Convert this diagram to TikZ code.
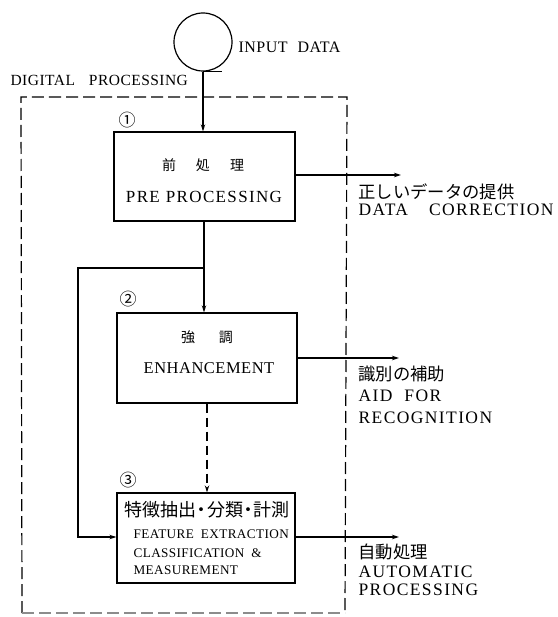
\documentclass[tikz,border=0pt]{standalone}
\usepackage{fontspec}
\setmainfont{Liberation Serif}
\newfontfamily\jpfont{Noto Sans CJK JP}
\newfontfamily\wideserif[LetterSpace=8]{Liberation Serif}
\newfontfamily\looseserif[LetterSpace=3]{Liberation Serif}
\usetikzlibrary{arrows.meta}
\newcommand{\jpdot}{\hspace{-0.2em}・\hspace{-0.2em}}

\begin{document}
\begin{tikzpicture}[x=1pt,y=-1pt,
  line width=1.2pt,
  flow/.style={-{Stealth[length=7pt,width=4.5pt]}},
  procbox/.style={draw, line width=1.3pt, minimum width=#1, minimum height=90pt, inner sep=0pt},
  en/.style={inner sep=0pt, font=\wideserif\fontsize{17.5}{19}\selectfont},
  enbox/.style={inner sep=0pt, font=\wideserif\fontsize{17}{19}\selectfont},
  ensmall/.style={inner sep=0pt, anchor=west, font=\looseserif\fontsize{13.2}{15}\selectfont},
  ja/.style={inner sep=0pt, font=\jpfont\fontsize{17.3}{19}\selectfont},
  num/.style={inner sep=0pt, font=\jpfont\fontsize{17}{17}\selectfont},
  frame/.style={dash pattern=on 12pt off 5pt, line width=1.2pt}
]
\useasboundingbox (0,0) rectangle (557,617);

% input
\node[draw, circle, minimum size=58pt, inner sep=0pt, line width=1.2pt] (in) at (203,42) {};
\node[inner sep=0pt, anchor=west, font=\looseserif\fontsize{16}{18}\selectfont] (inlabel) at (238,47) {INPUT\hspace{10pt}DATA};

% digital processing frame
\node[inner sep=0pt, anchor=west, font=\looseserif\fontsize{15.5}{18}\selectfont] (dplabel) at (10,80) {DIGITAL\hspace{14pt}PROCESSING};
\coordinate (ftl) at (21,97);
\coordinate (ftr) at (347,97);
\coordinate (fbl) at (22,613);
\coordinate (fbr) at (345,613);
\draw[frame] (fbl) -- (ftl) -- (ftr) -- (fbr);
\draw[frame, draw=black!45] (fbl) -- (fbr);

% process boxes
\node[procbox=181pt, minimum height=89pt] (b1) at (204.5,176.5) {};
\node[procbox=180pt] (b2) at (207,358) {};
\node[procbox=178pt] (b3) at (206,538) {};

\node[num] (n1) at (127,120) {①};
\node[num] (n2) at (128,299) {②};
\node[num] (n3) at (128,480) {③};

\node[inner sep=0pt, font=\jpfont\fontsize{14}{14}\selectfont] (t1a) at (203,165) {前\hspace{20pt}処\hspace{20pt}理};
\node[enbox] (t1b) at (204,197) {PRE\hspace{6pt}PROCESSING};

\node[inner sep=0pt, font=\jpfont\fontsize{14}{14}\selectfont] (t2a) at (207,337) {強\hspace{24pt}調};
\node[inner sep=0pt, font=\looseserif\fontsize{16.5}{19}\selectfont] (t2b) at (209,368) {ENHANCEMENT};

\node[inner sep=0pt, font=\jpfont\fontsize{18}{19}\selectfont] (t3a) at (207,510) {特徴抽出\jpdot 分類\jpdot 計測};
\node[ensmall] (t3b) at (133,534) {FEATURE\hspace{7pt}EXTRACTION};
\node[ensmall] (t3c) at (133,553) {CLASSIFICATION\hspace{7pt}\&};
\node[ensmall] (t3d) at (133,570) {MEASUREMENT};

% flow
\draw (in.south) -- ++(19,0);
\draw[flow] (in.south) -- (in.south |- b1.north);
\coordinate (j) at (204,268);
\draw (b1.south -| j) -- (j);
\draw[flow] (j) -- (j |- b2.north);
\draw[flow] (j) -- (78,268) -- (78,537) -- (b3.west |- 0,537);
\draw[flow, dash pattern=on 9pt off 5pt] (b2.south) -- (b2.south |- b3.north);

% outputs
\coordinate (o1) at (401,175);
\coordinate (o2) at (399,358);
\coordinate (o3) at (399,537);
\draw[flow] (b1.east |- o1) -- (o1);
\draw[flow] (b2.east |- o2) -- (o2);
\draw[flow] (b3.east |- o3) -- (o3);

\node[ja, anchor=west] (r1a) at (358,192) {正しいデータの提供};
\node[en, anchor=west] (r1b) at (358,210) {DATA\hspace{21pt}CORRECTION};
\node[ja, anchor=west] (r2a) at (358,374) {識別の補助};
\node[en, anchor=west] (r2b) at (358,396) {AID\hspace{12pt}FOR};
\node[en, anchor=west] (r2c) at (358,418) {RECOGNITION};
\node[ja, anchor=west] (r3a) at (358,552) {自動処理};
\node[en, anchor=west] (r3b) at (358,572) {AUTOMATIC};
\node[en, anchor=west] (r3c) at (358,590) {PROCESSING};
\end{tikzpicture}
\end{document}
